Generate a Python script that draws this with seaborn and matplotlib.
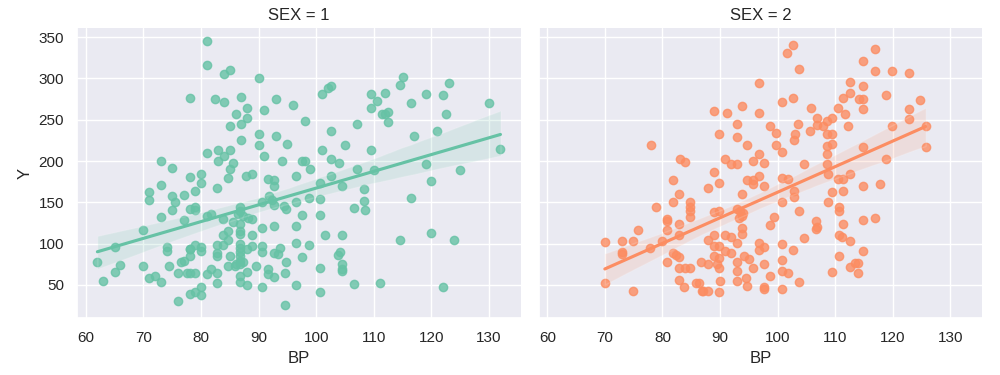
import pandas as pd
import matplotlib.pyplot as plt
import seaborn as sns

# ========== Data / 数据 ==========

# SEX = 1
bp_sex1 = [
    81, 81, 78, 82.5, 73, 75, 81,
    84, 85, 90, 84, 87, 93, 96, 88, 91, 86, 88, 87, 85, 98, 90, 93, 87, 90, 95,
    101, 102, 102.5, 109.5, 109.5, 107, 102.5, 105, 101, 109.5,
    83, 85, 84, 83, 85.5, 91, 94, 97.5, 98, 99, 85, 102.5, 104, 107,
    115, 114.5, 123, 110.5, 112, 119, 122, 116.5, 111.5, 112.5, 112, 122.5, 112.5, 130,
    117, 121, 132, 110, 119, 125,
    120, 108.5, 116.5, 120, 114.5, 124, 111, 122,
    62, 63, 65, 66, 65, 70, 70, 71, 71, 73, 73, 71, 72, 73, 74, 74, 74.5, 75, 75.5,
    75, 77, 77, 76, 77, 76.5, 76, 78, 80, 80, 79, 78, 79, 79, 79, 78, 78, 80, 80,
    78, 77.5, 79, 78, 80, 79, 78, 80,
    84.7, 87.8, 88.8, 82.7, 91.6, 92.7, 92.7, 96.5, 102.5, 104.5, 100.7, 108.3, 108.3,
    106.5, 91.8, 92.4, 92.7, 90.6, 94.4, 94.7, 96.5, 98.7, 100.7, 100.7, 97.6, 92.7,
    90.6, 96.5, 86.7, 86.7, 86.4, 87.3, 88.2, 88.9, 85.6, 86.7, 81.7, 81, 83.8, 84.7,
    83.8, 86.7, 86.7, 88.9, 82.7, 83.8, 84.7, 86.7, 86.7, 86.7, 86.7, 86.7, 86.7, 86,
    87.2, 87.9, 88.9, 90.6, 90.6, 92.7, 93.3, 93.7, 82.7, 82.7, 85.1, 84.7, 85.9, 89.6,
    94.7, 96.5, 98.7, 97.6, 101.6, 104.5, 104.1, 103.7, 104.4, 104.5, 104.4, 100.7,
    81.7, 82.7, 81, 82.7, 87.9, 86.7, 86.7, 87.9, 91.6, 91.6, 92.7, 90.6, 94.6, 96.5,
    100.7, 106.5, 94.6,
]
y_sex1 = [
    345, 316, 276, 275, 200, 192, 210,
    306, 310, 301, 272, 278, 275, 268, 264, 262, 257, 252, 245, 242, 249, 233, 230, 225, 219, 221,
    281, 288, 291, 281, 264, 245, 237, 220, 214, 214,
    214, 214, 206, 200, 198, 206, 200, 200, 200, 190, 190, 202, 198, 191,
    302, 292, 295, 273, 282, 281, 280, 270, 257, 260, 257, 257, 247, 270,
    230, 236, 215, 189, 196, 189,
    176, 141, 155, 113, 104, 104, 53, 48,
    78, 55, 96, 74, 66, 116, 73, 162, 153, 171, 132, 59, 61, 54, 96, 91, 73, 158, 150,
    141, 159, 129, 31, 79, 78, 64, 181, 174, 184, 164, 142, 144, 141, 98, 93, 94, 96, 91,
    85, 65, 64, 64, 47, 42, 39, 38,
    180, 182, 184, 167, 178, 177, 170, 182, 182, 170, 173, 166, 152,
    143, 158, 153, 147, 150, 146, 142, 150, 155, 154, 135, 135, 122,
    119, 122, 144, 140, 136, 134, 131, 130, 126, 124, 136, 133, 130, 115,
    110, 115, 112, 111, 99, 99, 104, 100, 95, 90, 85, 79, 75, 75,
    78, 94, 97, 97, 90, 89, 87, 95, 89, 85, 85, 73, 73, 73,
    78, 101, 99, 84, 110, 110, 90, 86, 75, 69, 67, 70,
    69, 65, 63, 52, 66, 61, 54, 50, 69, 63, 60, 48, 65, 50,
    41, 51, 26,
]

# SEX = 2
bp_sex2 = [
    78, 83, 84,
    102.7, 101.7, 103.7, 96.7, 89, 91.3, 93.9, 96.7, 100.8, 102.7, 105.8, 93, 89.8, 93,
    94.7, 98.7, 99.8, 103.5, 103.1, 102.8, 99.8, 100.8, 96.7, 95.7, 97.7, 90.9, 91.9, 93,
    88.9, 104.6, 105.7, 106.9, 106.9, 107.8, 108.6, 109.5, 108.6, 109.5, 109.5, 108.6,
    108.6, 108.6, 110.5, 111.7, 112.2, 111.4, 112.6, 112.6,
    116.9, 114.9, 116.9, 119.9, 122.8, 114.9, 114.9, 114.2, 118.9, 124.7, 114.9, 122.8,
    122.8, 119.9, 125.7, 114.9, 125.7, 118.9,
    81.75, 82.8, 81.75, 78.9, 84.8, 84.8, 84.8, 84.8, 80.8, 80.8, 80.8, 82.8, 82.8, 75.8,
    73, 74.9, 70, 73, 73, 77.9, 80, 81.75, 82.3, 82.8, 80.8, 82.8, 84, 84.8, 86.7, 82.8,
    83.8, 85.75, 86.8, 70, 74.9,
    87.9, 89.8, 94.7, 95.7, 95.7, 96.7, 97.7, 100.8, 101.8, 93.9, 102.8, 102.8, 100.8,
    108.8, 108.8, 110.5, 111.4, 112.6, 111.4, 109.5, 110.7, 110.7, 111.3, 92.9, 93.4, 94,
    93.3, 93.8, 88.9, 89.8, 103.8, 99.4, 98.7, 106.7, 106.9, 106.7, 93.8, 93.8, 87.9,
    88.9, 90.9, 91.9, 92.9, 104.6, 110.7, 111.1, 112.6, 96.7, 97.7, 96.7, 100.8, 102.7,
    88.9, 89.8, 90.9, 91.9, 89, 89.8, 87.9, 89.4, 89.8, 92.9, 94.2, 95.1, 95.7, 92.9,
    97.7, 100.8, 100.8, 101.8, 98.7, 110.7, 112.6, 113.5, 109.5, 86.3, 87, 87.9, 90,
    89.8, 92.9, 94.6, 94.7, 97.7, 97.7, 100.8, 103.8,
    114.9, 117.8, 114.9, 116.9, 114.9, 114, 114,
]
y_sex2 = [
    220, 202, 199,
    340, 331, 311, 294, 261, 258, 267, 258, 271, 276, 264, 245, 233, 229,
    220, 242, 234, 245, 233, 225, 220, 211, 208, 200, 198, 202, 196, 196,
    187, 196, 236, 252, 244, 242, 248, 252, 233, 233, 221, 218,
    208, 196, 264, 257, 242, 276, 282, 296,
    336, 321, 309, 309, 307, 291, 275, 275, 280, 274, 263, 263,
    251, 243, 243, 217, 217, 202,
    177, 160, 151, 144, 150, 144, 140, 132, 130, 127, 116, 124, 110, 116,
    103, 103, 102, 90, 88, 95, 103, 89, 86, 84, 78, 70, 70, 70, 78, 56,
    47, 53, 43, 52, 43,
    168, 174, 177, 177, 172, 182, 170, 180, 178, 160, 164, 156, 151,
    184, 150, 178, 178, 184, 164, 163, 144, 139, 124, 142, 140, 137,
    131, 134, 138, 139, 140, 132, 123, 128, 120, 118, 119, 112, 104,
    111, 111, 108, 101, 107, 110, 108, 103, 101, 96, 92, 100, 92,
    97, 97, 91, 89, 85, 83, 76, 76, 71, 78, 85, 81, 70, 67,
    76, 80, 67, 64, 61, 85, 72, 77, 66, 53, 43, 43, 55,
    41, 55, 59, 49, 47, 45, 45, 54,
    170, 172, 129, 131, 91, 77, 64,
]

df = pd.concat([
    pd.DataFrame({"BP": bp_sex1, "Y": y_sex1, "SEX": 1}),
    pd.DataFrame({"BP": bp_sex2, "Y": y_sex2, "SEX": 2}),
], ignore_index=True)

# ========== Plot / 绘图 ==========
sns.set_theme()
plt.rcParams["font.family"] = ["Liberation Sans", "DejaVu Sans"]

g = sns.lmplot(data=df, x="BP", y="Y", col="SEX", hue="SEX",
               palette="Set2", height=3.75, aspect=4 / 3)
g.figure.subplots_adjust(top=0.925, bottom=0.152)
g.figure.savefig("out.png", dpi=100)
